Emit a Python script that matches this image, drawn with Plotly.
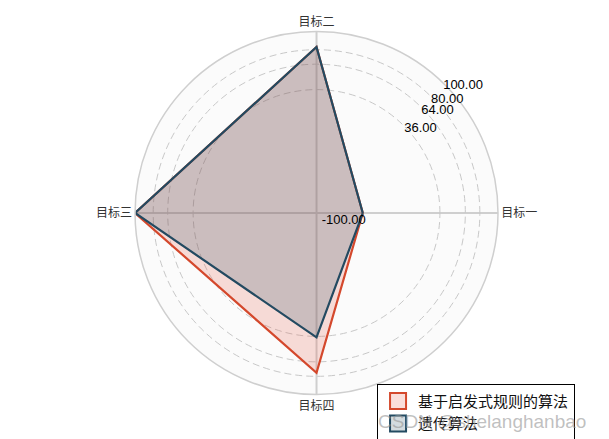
import plotly.graph_objects as go

categories = ['目标一', '目标二', '目标三', '目标四']
heuristic = [-49, 83, 100, 76]
genetic = [-49, 83, 100, 37]
series_names = ['基于启发式规则的算法', '遗传算法']
radial_ticks = [-100, 36, 64, 80, 100]

red = '#d4482c'
blue = '#234a61'
red_fill = 'rgba(230,90,70,0.2)'
blue_fill = 'rgba(35,74,97,0.2)'

def closed(vals):
    return vals + vals[:1]

fig = go.Figure()
for vals, name, lc, fc in [(heuristic, series_names[0], red, red_fill),
                           (genetic, series_names[1], blue, blue_fill)]:
    fig.add_trace(go.Scatterpolar(
        r=closed(vals), theta=closed(categories), name=name,
        mode='lines', fill='toself', fillcolor=fc,
        line=dict(color=lc, width=2.2), showlegend=False,
    ))
    # legend patch
    fig.add_trace(go.Scatterpolar(
        r=[None], theta=[None], name=name, mode='markers',
        marker=dict(symbol='square', size=16, color=fc,
                    line=dict(color=lc, width=2)),
    ))

fig.update_layout(
    width=609, height=439,
    margin=dict(l=0, r=0, t=0, b=0),
    paper_bgcolor='white',
    font=dict(family='Liberation Sans, Noto Sans CJK SC', size=12, color='#000'),
    polar=dict(
        domain=dict(x=[0.2086, 0.8046], y=[0.1195, 0.9465]),
        bgcolor='#fbfbfb',
        radialaxis=dict(
            range=[-100, 100], tickvals=radial_ticks,
            ticktext=['%.2f' % v for v in radial_ticks],
            angle=48, tickangle=48, showline=False, ticks='',
            gridcolor='#c8c8c8', griddash='7px,4px', gridwidth=1.2,
            tickfont=dict(family='Liberation Sans', size=13, color='#000'),
        ),
        angularaxis=dict(
            direction='counterclockwise', rotation=0,
            showline=True, linecolor='#cfcfcf', linewidth=1.5,
            gridcolor='#cfcfcf', gridwidth=1.5, ticks='',
            tickfont=dict(family='Noto Sans CJK SC', size=12, color='#333'),
        ),
    ),
    showlegend=True,
    legend=dict(
        x=0.606, y=0.144, xanchor='left', yanchor='top',
        bgcolor='white', bordercolor='#000', borderwidth=1,
        font=dict(family='Noto Sans CJK SC', size=15, color='#111'),
        tracegroupgap=0, itemwidth=30,
    ),
    annotations=[dict(
        text='CSDN @shelanghanbao', x=0.952, y=0.057, xref='paper', yref='paper',
        xanchor='right', yanchor='middle', showarrow=False,
        font=dict(family='Liberation Sans', size=19, color='rgba(150,150,150,0.6)'),
    )],
)

fig.write_html('out.html')
